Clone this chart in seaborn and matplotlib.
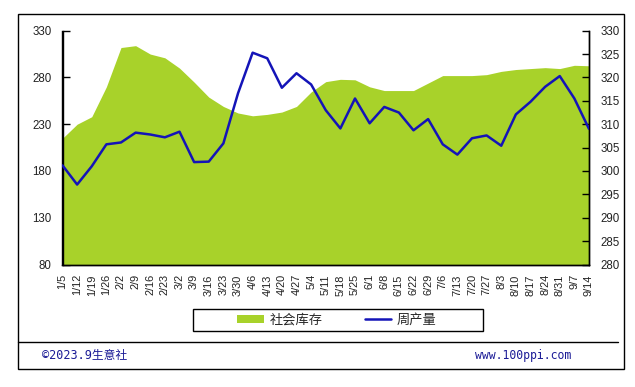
import numpy as np
import pandas as pd
import matplotlib
matplotlib.use("Agg")
import matplotlib.pyplot as plt
from matplotlib.patches import Rectangle, Patch
from matplotlib.lines import Line2D
import seaborn as sns

dates = ["1/5", "1/12", "1/19", "1/26", "2/2", "2/9", "2/16", "2/23", "3/2", "3/9",
         "3/16", "3/23", "3/30", "4/6", "4/13", "4/20", "4/27", "5/4", "5/11", "5/18",
         "5/25", "6/1", "6/8", "6/15", "6/22", "6/29", "7/6", "7/13", "7/20", "7/27",
         "8/3", "8/10", "8/17", "8/24", "8/31", "9/7", "9/14"]
inventory = [215, 230, 238, 270, 312, 314, 305, 301, 290, 275,
             259, 249, 242, 239, 240.5, 243, 249, 264.5, 275.5, 278,
             277.5, 270, 266, 266, 266, 274, 282, 282, 282, 283,
             286.5, 288.5, 289.5, 290.5, 289.5, 293, 292.5]
production = [301.2, 297.1, 301.0, 305.7, 306.1, 308.2, 307.8, 307.2, 308.4, 301.9,
              302.0, 305.9, 316.6, 325.3, 324.1, 317.8, 320.9, 318.5, 313.0, 309.1,
              315.5, 310.2, 313.7, 312.5, 308.7, 311.1, 305.7, 303.5, 307.0, 307.6,
              305.4, 312.1, 314.8, 318.0, 320.3, 315.5, 309.0]
left_ticks = [80, 130, 180, 230, 280, 330]
right_ticks = [280, 285, 290, 295, 300, 305, 310, 315, 320, 325, 330]
series_names = ["社会库存", "周产量"]
footer_left = "©2023.9生意社"
footer_right = "www.100ppi.com"

GREEN = "#A8D22A"
BLUE = "#1414B8"
NAVY = "#1A1A96"

sns.set_style("white")
plt.rcParams["font.family"] = ["Liberation Sans", "Noto Sans CJK SC", "DejaVu Sans"]

W, H = 635, 387
fig = plt.figure(figsize=(W / 100, H / 100), dpi=100)

def fx(px):
    return px / W

def fy(py):
    return 1 - py / H

left, right, top, bottom = 62.5, 589, 30.7, 264.5
ax = fig.add_axes([fx(left), fy(bottom), fx(right) - fx(left), fy(top) - fy(bottom)])

df = pd.DataFrame({"date": dates, "idx": np.arange(len(dates)),
                   "inventory": inventory, "production": production})

ax.fill_between(df["idx"], df["inventory"], 80, color=GREEN, linewidth=0, zorder=1)
ax.set_xlim(0, len(dates) - 1)
ax.set_ylim(80, 330)
ax.set_yticks(left_ticks)
ax.set_xticks(df["idx"])
ax.set_xticklabels(dates, rotation=90, fontsize=7.9)
ax.tick_params(axis="y", direction="in", length=5, width=1, color="black", labelsize=8.3,
               pad=8, labelcolor="#222222")
ax.tick_params(axis="x", direction="in", length=3, width=0.8, color="#c9c9c9", pad=7,
               labelcolor="#222222")
ax.set_xlabel("")
ax.set_ylabel("")

ax2 = ax.twinx()
sns.lineplot(data=df, x="idx", y="production", ax=ax2, color=BLUE, linewidth=1.8, zorder=3)
ax2.set_ylim(280, 330)
ax2.set_yticks(right_ticks)
ax2.tick_params(axis="y", direction="in", length=5, width=1, color="black", labelsize=8.3,
                pad=8, labelcolor="#222222")
ax2.set_xlim(0, len(dates) - 1)
ax2.set_xlabel("")
ax2.set_ylabel("")

for a in (ax, ax2):
    a.spines["top"].set_visible(False)
    for s in ("left", "right", "bottom"):
        a.spines[s].set_color("black")
        a.spines[s].set_linewidth(1)
    a.grid(False)

# outer border and separator
fig.patches.append(Rectangle((fx(18), fy(369)), fx(624) - fx(18), fy(14) - fy(369),
                             transform=fig.transFigure, fill=False, edgecolor="black", linewidth=1))
fig.lines.append(Line2D([fx(18), fx(618)], [fy(341.5), fy(341.5)], transform=fig.transFigure,
                        color="black", linewidth=1))

# legend box
fig.patches.append(Rectangle((fx(193), fy(331)), fx(483) - fx(193), fy(309) - fy(331),
                             transform=fig.transFigure, fill=False, edgecolor="black", linewidth=1))
handles = [Patch(facecolor=GREEN, edgecolor="none"),
           Line2D([0], [0], color=BLUE, linewidth=1.8)]
leg = fig.legend(handles, series_names, loc="center", bbox_to_anchor=(fx(337), fy(320)),
                 ncol=2, frameon=False, handlelength=2.0, handleheight=0.55,
                 handletextpad=0.45, columnspacing=3.2, borderpad=0.2,
                 prop={"family": ["Noto Sans CJK SC", "DejaVu Sans"], "size": 9.5})

fig.text(fx(42), fy(356), footer_left, color=NAVY, fontsize=8.5, va="center", ha="left",
         family=["DejaVu Sans Mono", "Noto Sans CJK SC"])
fig.text(fx(475), fy(356), footer_right, color=NAVY, fontsize=8.3, va="center", ha="left",
         family=["DejaVu Sans Mono"])

fig.savefig("out.png", dpi=100, facecolor="white")
